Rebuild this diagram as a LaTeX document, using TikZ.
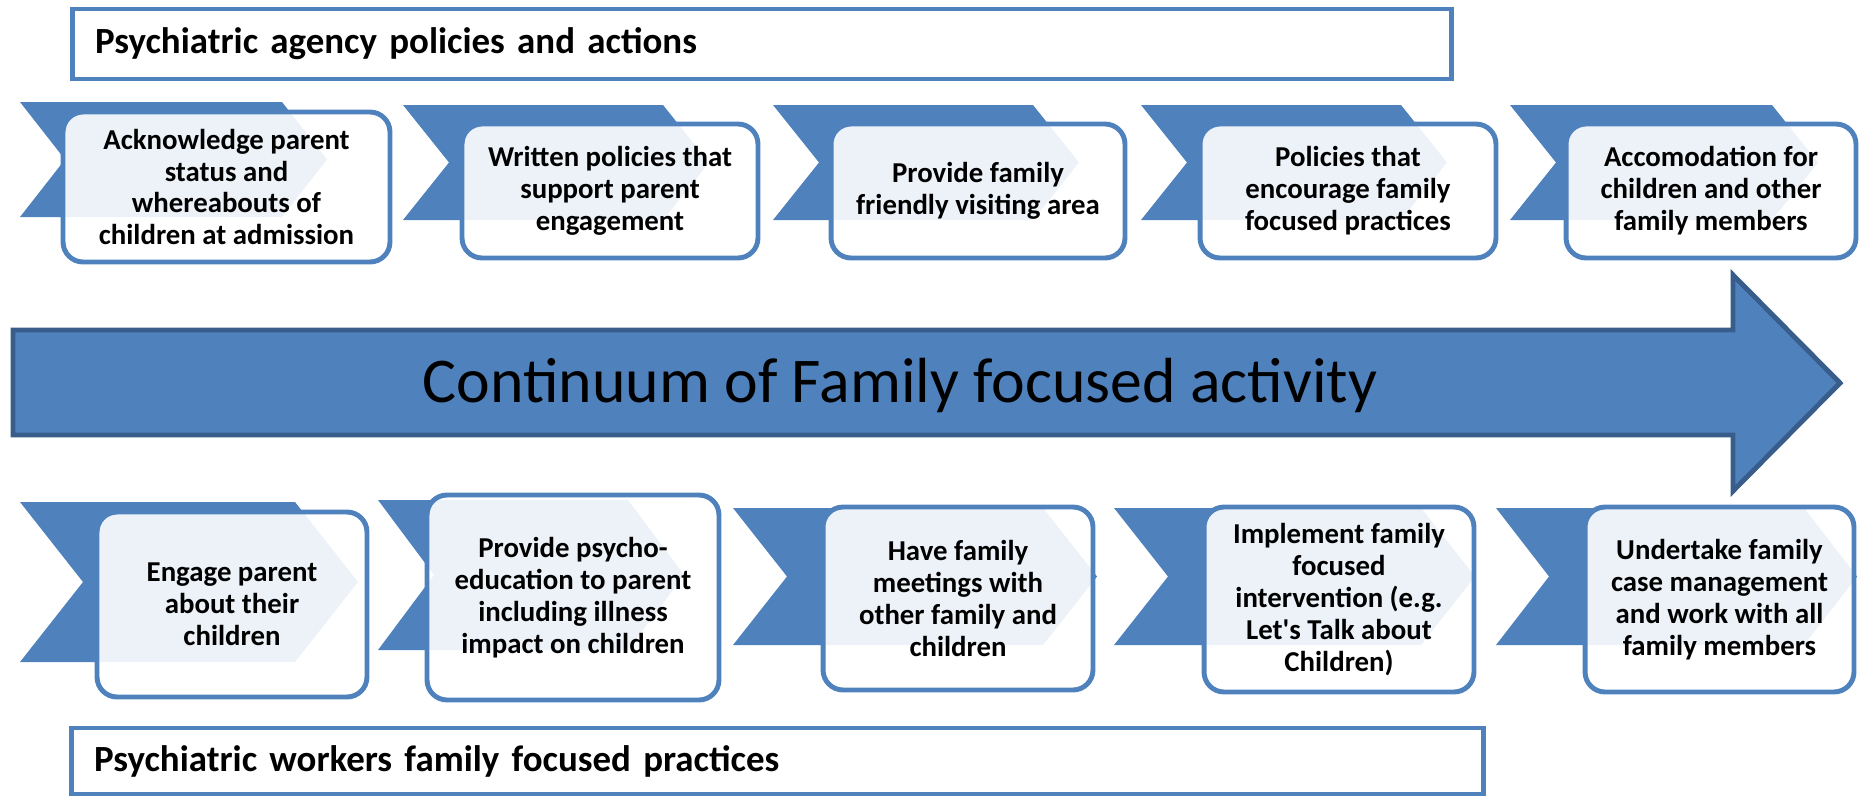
\documentclass[tikz,border=0pt]{standalone}
\usepackage{fontspec}
\setmainfont{Carlito}
\usepackage{tikz}
\definecolor{blu}{HTML}{4F81BD}
\definecolor{bluedge}{HTML}{385D8A}
\tikzset{
  chev/.style={fill=blu},
  card/.style={draw=blu, line width=2.8pt, rounded corners=0.4cm, fill=white, fill opacity=0.9,
    text opacity=1, align=center, inner sep=0pt, font=\fontsize{16.4}{18.2}\selectfont\bfseries},
  banner/.style={draw=blu, line width=2.8pt, fill=white, align=left, inner ysep=0pt,
    inner xsep=0.46cm, font=\fontsize{21}{25}\selectfont\bfseries},
  bigarr/.style={fill=blu, draw=bluedge, line width=2.8pt, line join=miter},
  labc/.style={font=\fontsize{36.3}{40}\selectfont}
}

\begin{document}
\begin{tikzpicture}[x=0.02cm, y=-0.02cm]
  \useasboundingbox (0,0) rectangle (1861,798);

  % headers
  \node[banner, minimum width=27.6cm, minimum height=1.4cm, text width=26.68cm] (agency) at (762,44)
    {Psychiatric agency policies and actions};
  \node[banner, minimum width=28.26cm, minimum height=1.32cm, text width=27.34cm] (workers) at (777.5,761)
    {Psychiatric workers family focused practices};

  % chevrons: left x / top / bottom / width / depth
  \foreach \x/\ya/\yb/\w/\d in {20/102/217/307/45, 403/105/220/306/46, 773/105/220/306/46,
      1141/105/220/306/46, 1510/105/220/308/46, 20/502/662/338/63, 378/500/650/306/56,
      733/508/645/364/54, 1114/508/645/361/54, 1496/508/645/361/53}
    \fill[chev] (\x,\ya) -- ({\x+\w-\d},\ya) -- ({\x+\w},{(\ya+\yb)/2}) -- ({\x+\w-\d},\yb)
      -- (\x,\yb) -- ({\x+\d},{(\ya+\yb)/2}) -- cycle;

  % agency row
  \node[card, minimum width=6.54cm, minimum height=3cm] (a1) at (226.5,187)
    {Acknowledge parent\\status and\\whereabouts of\\children at admission};
  \node[card, minimum width=5.92cm, minimum height=2.68cm] (a2) at (610,191)
    {Written policies that\\support parent\\engagement};
  \node[card, minimum width=5.88cm, minimum height=2.68cm] (a3) at (978,191)
    {Provide family\\friendly visiting area};
  \node[card, minimum width=5.92cm, minimum height=2.68cm] (a4) at (1348,191)
    {Policies that\\encourage family\\focused practices};
  \node[card, minimum width=5.8cm, minimum height=2.68cm] (a5) at (1711,191)
    {Accomodation for\\children and other\\family members};

  % continuum
  \draw[bigarr] (13,330) -- (1733,330) -- (1733,275) -- (1840,383) -- (1733,491)
    -- (1733,435) -- (13,435) -- cycle;
  \node[labc] (cont) at (900,385) {Continuum of Family focused activity};

  % workers row
  \node[card, minimum width=5.4cm, minimum height=3.7cm] (w1) at (232,604.5)
    {Engage parent\\about their\\children};
  \node[card, minimum width=5.84cm, minimum height=4.1cm] (w2) at (573,597.5)
    {Provide psycho-\\education to parent\\including illness\\impact on children};
  \node[card, minimum width=5.4cm, minimum height=3.66cm] (w3) at (958,598.5)
    {Have family\\meetings with\\other family and\\children};
  \node[card, minimum width=5.4cm, minimum height=3.7cm] (w4) at (1339,599.5)
    {Implement family\\focused\\intervention (e.g.\\Let\textquotesingle s Talk about\\Children)};
  \node[card, minimum width=5.38cm, minimum height=3.7cm] (w5) at (1719.5,599.5)
    {Undertake family\\case management\\and work with all\\family members};
\end{tikzpicture}
\end{document}
